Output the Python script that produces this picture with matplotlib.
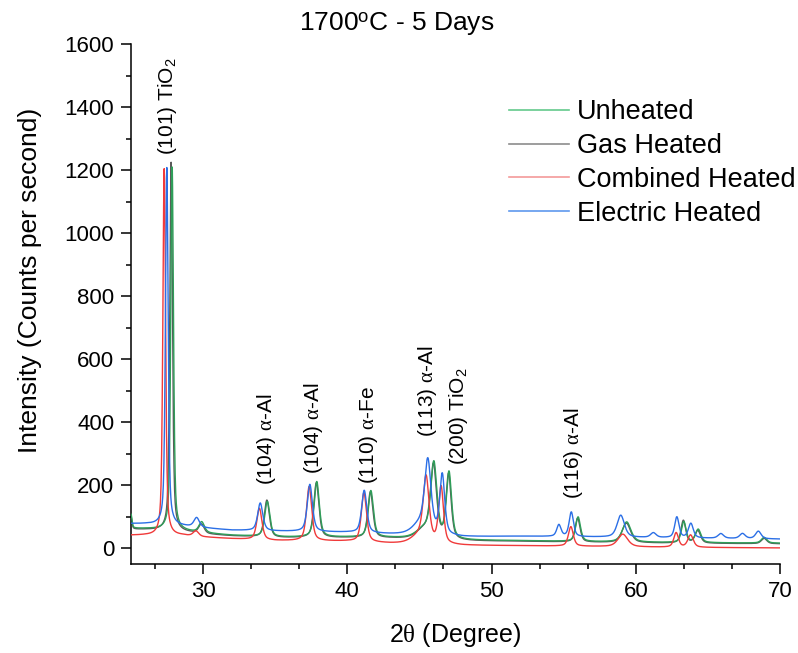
import numpy as np
import matplotlib
matplotlib.use("Agg")
import matplotlib.pyplot as plt
from matplotlib.ticker import MultipleLocator, AutoMinorLocator

plt.rcParams['font.family'] = ['Liberation Sans', 'DejaVu Sans']
plt.rcParams['mathtext.fontset'] = 'custom'
plt.rcParams['mathtext.rm'] = 'Liberation Sans'
plt.rcParams['mathtext.it'] = 'Liberation Serif'
plt.rcParams['mathtext.bf'] = 'Liberation Sans:bold'
plt.rcParams['mathtext.sf'] = 'Liberation Sans'

# 2-theta scan range and step (degrees)
two_theta_start, two_theta_stop, two_theta_step = 25.0, 70.0, 0.02

# Background level of each scan, sampled at these angles
bg_angles = [25, 26, 27, 28.5, 30, 32, 35, 40, 43, 48, 52, 56, 60, 62, 66, 70]
bg_unheated = [63, 62, 60, 55, 48, 41, 35, 35, 33, 25, 24, 21, 19, 18, 17, 16]
bg_gas = [60, 59, 57, 52, 45, 39, 33, 33, 31, 23, 22, 19, 17, 16, 15, 14]
bg_combined = [41, 41, 39, 40, 35, 30, 24, 22, 15, 9, 8, 6, 4, 3, 2, 1]
bg_electric = [78, 77, 74, 70, 64, 57, 54, 50, 44, 36, 38, 36, 34, 33, 31, 29]

# Reflections: position (deg), intensity above background (counts/s), FWHM (deg)
pk_pos_unheated = [25.0, 27.85, 29.9, 34.45, 37.88, 41.63, 45.35, 46.0, 47.05, 56.0, 59.37, 63.33, 64.33, 68.9]
pk_amp_unheated = [44, 1160, 34, 112, 176, 148, 30, 230, 210, 78, 64, 66, 42, 18]
pk_fwhm_unheated = [0.15, 0.22, 0.45, 0.42, 0.42, 0.42, 1.3, 0.5, 0.42, 0.4, 0.7, 0.38, 0.45, 0.45]

pk_pos_gas = [25.0, 27.78, 29.88, 34.42, 37.85, 41.6, 45.35, 45.97, 47.02, 55.97, 59.35, 63.3, 64.3, 68.9]
pk_amp_gas = [40, 1170, 30, 118, 174, 146, 30, 224, 205, 76, 62, 72, 40, 17]
pk_fwhm_gas = [0.15, 0.22, 0.45, 0.42, 0.42, 0.42, 1.3, 0.5, 0.42, 0.4, 0.7, 0.38, 0.45, 0.45]

pk_pos_combined = [27.30, 29.5, 33.90, 37.35, 41.15, 45.0, 45.46, 46.50, 55.50, 59.1, 62.80, 63.80]
pk_amp_combined = [1165, 17, 100, 172, 156, 25, 200, 180, 62, 40, 46, 39]
pk_fwhm_combined = [0.22, 0.45, 0.42, 0.42, 0.42, 1.3, 0.48, 0.4, 0.4, 0.8, 0.38, 0.45]

pk_pos_electric = [27.48, 29.55, 33.96, 37.40, 41.17, 45.1, 45.58, 46.58, 54.67, 55.53, 58.96, 61.22, 62.85, 63.82, 65.9, 67.4, 68.5]
pk_amp_electric = [1135, 30, 88, 150, 135, 35, 220, 190, 37, 78, 70, 15, 66, 46, 15, 16, 24]
pk_fwhm_electric = [0.22, 0.45, 0.42, 0.42, 0.42, 1.3, 0.52, 0.4, 0.35, 0.35, 0.6, 0.45, 0.35, 0.4, 0.45, 0.45, 0.45]

series_labels = ['Unheated', 'Gas Heated', 'Combined Heated', 'Electric Heated']
series_colors = ['#2f9e59', '#5a5a5a', '#f03a3a', '#2b6fe6']
legend_colors = ['#63c98c', '#8c8c8c', '#f49a9a', '#5f98ee']


def pattern(x, bg, pos, amp, fwhm, eta=0.55):
    y = np.interp(x, bg_angles, bg)
    for p, a, w in zip(pos, amp, fwhm):
        u = (x - p) / (w / 2.0)
        lor = 1.0 / (1.0 + u ** 2)
        gau = np.exp(-np.log(2.0) * u ** 2)
        y = y + a * (eta * lor + (1.0 - eta) * gau)
    return y


two_theta = np.arange(two_theta_start, two_theta_stop + two_theta_step / 2, two_theta_step)
scans = [
    pattern(two_theta, bg_unheated, pk_pos_unheated, pk_amp_unheated, pk_fwhm_unheated),
    pattern(two_theta, bg_gas, pk_pos_gas, pk_amp_gas, pk_fwhm_gas),
    pattern(two_theta, bg_combined, pk_pos_combined, pk_amp_combined, pk_fwhm_combined),
    pattern(two_theta, bg_electric, pk_pos_electric, pk_amp_electric, pk_fwhm_electric),
]

fig = plt.figure(figsize=(7.98, 6.53), dpi=100)
ax = fig.add_axes([0.1642, 0.1363, 0.8132, 0.7963])

zorders = [3, 2, 4, 5]
for y, c, z in zip(scans, series_colors, zorders):
    ax.plot(two_theta, y, color=c, lw=1.0, zorder=z)

ax.set_xlim(25, 70)
ax.set_ylim(-50, 1600)
ax.xaxis.set_major_locator(MultipleLocator(10))
ax.xaxis.set_minor_locator(AutoMinorLocator(3))
ax.yaxis.set_major_locator(MultipleLocator(200))
ax.yaxis.set_minor_locator(MultipleLocator(100))
ax.tick_params(which='major', direction='out', length=7, width=1.1, labelsize=16, pad=5)
ax.tick_params(which='minor', direction='out', length=3.8, width=1.1)
for side in ('top', 'right'):
    ax.spines[side].set_visible(False)
for side in ('left', 'bottom'):
    ax.spines[side].set_linewidth(1.1)

ax.set_xlabel(r'2$\theta$ (Degree)', fontsize=18, labelpad=14)
ax.set_ylabel('Intensity (Counts per second)', fontsize=19)
ax.yaxis.set_label_coords(-0.137, 0.545)
fig.text(0.497, 0.963, r'1700$^\mathrm{o}$C - 5 Days', ha='center', va='center', fontsize=19)

# Phase labels above the reflections
peak_labels = [
    (27.5, 1248, r'(101) TiO$_\mathrm{2}$'),
    (34.37, 200, r'(104) $\alpha$-Al'),
    (37.67, 237, r'(104) $\alpha$-Al'),
    (41.46, 205, r'$\mathit{(110)}$ $\alpha$-Fe'),
    (45.56, 353, r'(113) $\alpha$-Al'),
    (47.7, 263, r'(200) TiO$_\mathrm{2}$'),
    (55.7, 156, r'(116) $\alpha$-Al'),
]
for px, py, txt in peak_labels:
    ax.text(px, py, txt, rotation=90, ha='center', va='bottom', fontsize=15)

handles = [plt.Line2D([], [], color=c, lw=1.2) for c in legend_colors]
fig.legend(handles, series_labels, loc='upper left', bbox_to_anchor=(0.638, 0.848),
           frameon=False, fontsize=19.5, handlelength=2.2, handletextpad=0.3,
           labelspacing=0.29, borderaxespad=0, borderpad=0)

fig.savefig('out.png', dpi=100)
